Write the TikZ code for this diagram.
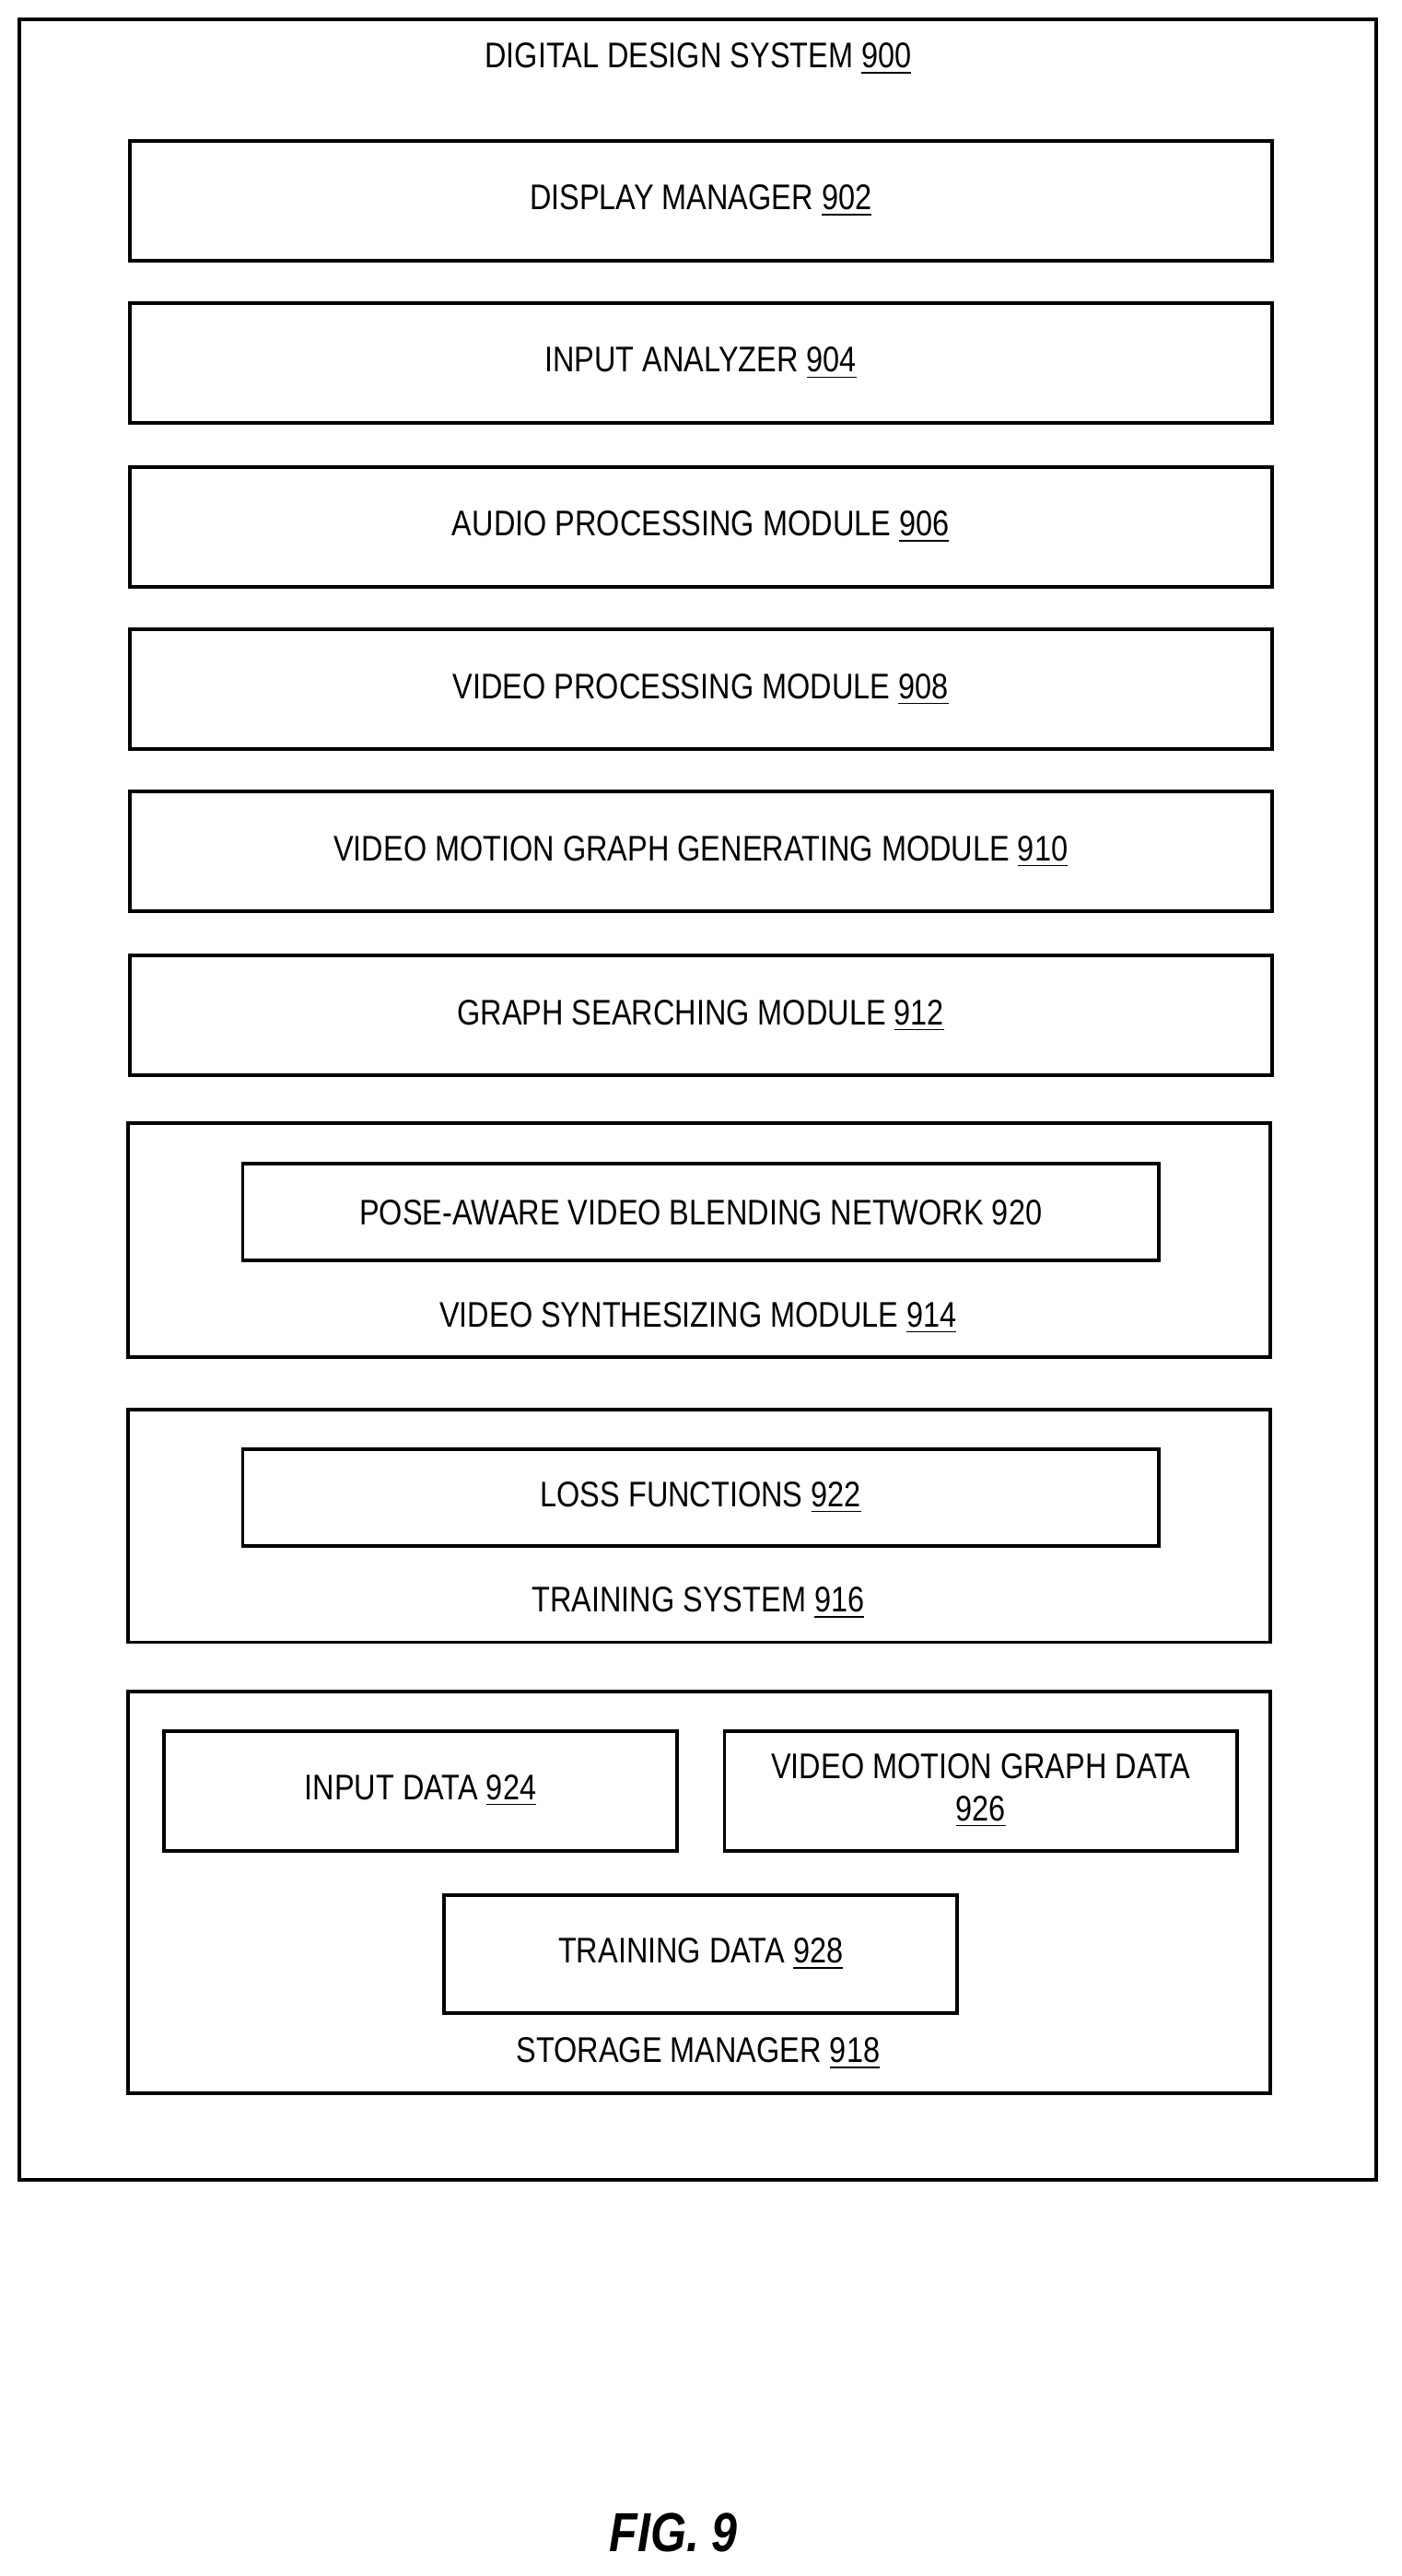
\documentclass[tikz,border=0pt]{standalone}
\usepackage{fontspec}
\setmainfont{Liberation Sans}[FakeStretch=0.84]
\newcommand{\refnum}[1]{\underline{#1}}
\begin{document}
\begin{tikzpicture}[x=0.01779cm,y=-0.01779cm,
    box/.style={draw,line width=1.1pt,anchor=north west,inner sep=0pt,font=\fontsize{11}{13}\selectfont},
    txt/.style={font=\fontsize{11}{13}\selectfont,inner sep=0pt}]
    \useasboundingbox (0,0) rectangle (855,1571.7);

    % outer system
    \draw[line width=1.1pt] (12,12) rectangle (840,1330);
    \node[txt] (sys) at (426,36) {DIGITAL DESIGN SYSTEM \refnum{900}};

    % modules
    \foreach \y/\lbl/\nm in {85/DISPLAY MANAGER/902,184/INPUT ANALYZER/904,
        284/AUDIO PROCESSING MODULE/906,383/VIDEO PROCESSING MODULE/908,
        482/VIDEO MOTION GRAPH GENERATING MODULE/910,582/GRAPH SEARCHING MODULE/912}
        \node[box,minimum width=697*0.01779cm,minimum height=73*0.01779cm] (m\nm) at (78,\y) {\lbl{} \refnum{\nm}};

    % video synthesizing
    \draw[line width=1.1pt] (78,685) rectangle (775,828);
    \node[box,minimum width=559*0.01779cm,minimum height=59*0.01779cm] (blend) at (147,709) {POSE-AWARE VIDEO BLENDING NETWORK 920};
    \node[txt] (synth) at (426,804) {VIDEO SYNTHESIZING MODULE \refnum{914}};

    % training system
    \draw[line width=1.1pt] (78,860) rectangle (775,1002);
    \node[box,minimum width=559*0.01779cm,minimum height=59*0.01779cm] (loss) at (147,883) {LOSS FUNCTIONS \refnum{922}};
    \node[txt] (train) at (426,978) {TRAINING SYSTEM \refnum{916}};

    % storage manager
    \draw[line width=1.1pt] (78,1032) rectangle (775,1277);
    \node[box,minimum width=313*0.01779cm,minimum height=73*0.01779cm] (indata) at (99,1055) {INPUT DATA \refnum{924}};
    \node[box,minimum width=313*0.01779cm,minimum height=73*0.01779cm,align=center] (vmgdata) at (441,1055) {VIDEO MOTION GRAPH DATA\\\refnum{926}};
    \node[box,minimum width=313*0.01779cm,minimum height=72*0.01779cm] (trdata) at (270,1155) {TRAINING DATA \refnum{928}};
    \node[txt] (store) at (426,1253) {STORAGE MANAGER \refnum{918}};

    \node[font=\fontsize{17}{20}\selectfont\bfseries\itshape] (fig) at (411,1545) {FIG. 9};
\end{tikzpicture}
\end{document}
